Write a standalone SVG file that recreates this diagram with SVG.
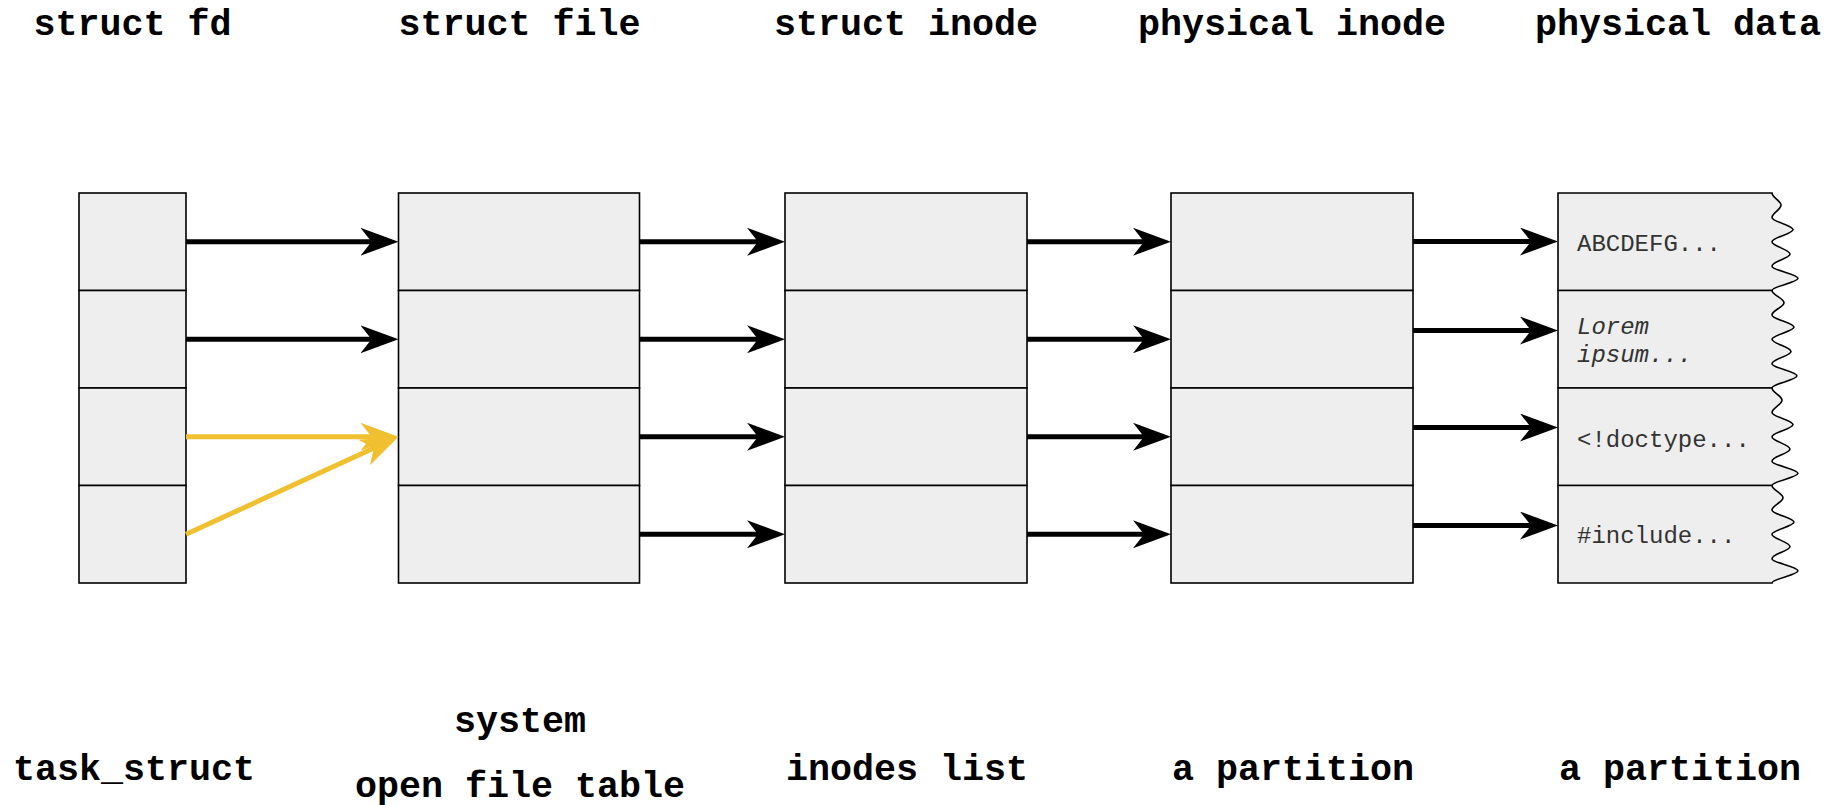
<svg xmlns="http://www.w3.org/2000/svg" width="1840" height="805" viewBox="0 0 1840 805">
<style>
.cell{fill:#eeeeee;stroke:#000;stroke-width:1.6}
.hd{font-family:"Liberation Mono","Courier New",monospace;font-weight:bold;font-size:36.7px;fill:#000;text-anchor:middle}
.dt{font-family:"Liberation Mono","Courier New",monospace;font-size:24px;fill:#333}
.ar{stroke:#000;stroke-width:5;fill:none}
.ay{stroke:#F0C030;stroke-width:5;fill:none}
</style>
<defs>
<marker id="mb" markerUnits="userSpaceOnUse" viewBox="0 0 38 28" refX="11" refY="14" markerWidth="38" markerHeight="28" orient="auto">
<path d="M0,0 L38,14 L0,28 L11,14 Z" fill="#000"/>
</marker>
<marker id="my" markerUnits="userSpaceOnUse" viewBox="0 0 38 28" refX="11" refY="14" markerWidth="38" markerHeight="28" orient="auto">
<path d="M0,0 L38,14 L0,28 L11,14 Z" fill="#F0C030"/>
</marker>
</defs>

<g id="headers">
<text class="hd" x="132.5" y="35">struct fd</text>
<text class="hd" x="519.5" y="35">struct file</text>
<text class="hd" x="906" y="35">struct inode</text>
<text class="hd" x="1292" y="35">physical inode</text>
<text class="hd" x="1678" y="35">physical data</text>
</g>

<g id="footers">
<text class="hd" x="134" y="780">task_struct</text>
<text class="hd" x="520" y="732">system</text>
<text class="hd" x="520" y="797">open file table</text>
<text class="hd" x="907" y="780">inodes list</text>
<text class="hd" x="1293" y="780">a partition</text>
<text class="hd" x="1680" y="780">a partition</text>
</g>

<g id="fd-table">
<rect class="cell" x="79" y="193" width="107" height="97.5"/>
<rect class="cell" x="79" y="290.5" width="107" height="97.5"/>
<rect class="cell" x="79" y="388" width="107" height="97.5"/>
<rect class="cell" x="79" y="485.5" width="107" height="97.5"/>
</g>

<g id="file-table">
<rect class="cell" x="398.5" y="193" width="241" height="97.5"/>
<rect class="cell" x="398.5" y="290.5" width="241" height="97.5"/>
<rect class="cell" x="398.5" y="388" width="241" height="97.5"/>
<rect class="cell" x="398.5" y="485.5" width="241" height="97.5"/>
</g>

<g id="inode-list">
<rect class="cell" x="785" y="193" width="242" height="97.5"/>
<rect class="cell" x="785" y="290.5" width="242" height="97.5"/>
<rect class="cell" x="785" y="388" width="242" height="97.5"/>
<rect class="cell" x="785" y="485.5" width="242" height="97.5"/>
</g>

<g id="physical-inodes">
<rect class="cell" x="1171" y="193" width="242" height="97.5"/>
<rect class="cell" x="1171" y="290.5" width="242" height="97.5"/>
<rect class="cell" x="1171" y="388" width="242" height="97.5"/>
<rect class="cell" x="1171" y="485.5" width="242" height="97.5"/>
</g>

<g id="physical-data">
<path class="cell" d="M1558,193 H1772 c0,4.4 9,7.8 9,12.19 c0,4.4 -9,7.8 -9,12.19 c0,4.4 21,7.8 21,12.19 c0,4.4 -21,7.8 -21,12.19 c0,4.4 18,7.8 18,12.19 c0,4.4 -18,7.8 -18,12.19 c0,4.4 26,7.8 26,12.19 c0,4.4 -26,7.8 -26,12.19 H1558 Z"/>
<path class="cell" d="M1558,290.5 H1772 c0,4.4 12,7.8 12,12.19 c0,4.4 -12,7.8 -12,12.19 c0,4.4 22,7.8 22,12.19 c0,4.4 -22,7.8 -22,12.19 c0,4.4 19,7.8 19,12.19 c0,4.4 -19,7.8 -19,12.19 c0,4.4 25,7.8 25,12.19 c0,4.4 -25,7.8 -25,12.19 H1558 Z"/>
<path class="cell" d="M1558,388 H1772 c0,4.4 10,7.8 10,12.19 c0,4.4 -10,7.8 -10,12.19 c0,4.4 21,7.8 21,12.19 c0,4.4 -21,7.8 -21,12.19 c0,4.4 18,7.8 18,12.19 c0,4.4 -18,7.8 -18,12.19 c0,4.4 26,7.8 26,12.19 c0,4.4 -26,7.8 -26,12.19 H1558 Z"/>
<path class="cell" d="M1558,485.5 H1772 c0,4.4 11,7.8 11,12.19 c0,4.4 -11,7.8 -11,12.19 c0,4.4 22,7.8 22,12.19 c0,4.4 -22,7.8 -22,12.19 c0,4.4 18,7.8 18,12.19 c0,4.4 -18,7.8 -18,12.19 c0,4.4 26,7.8 26,12.19 c0,4.4 -26,7.8 -26,12.19 H1558 Z"/>
<text class="dt" x="1577" y="251">ABCDEFG...</text>
<text class="dt" x="1577" y="334" font-style="italic">Lorem</text>
<text class="dt" x="1577" y="362" font-style="italic">ipsum...</text>
<text class="dt" x="1577" y="447">&lt;!doctype...</text>
<text class="dt" x="1577" y="543">#include...</text>
</g>

<g id="connectors">
<line class="ar" x1="186" y1="241.75" x2="371.5" y2="241.75" marker-end="url(#mb)"/>
<line class="ar" x1="186" y1="339.25" x2="371.5" y2="339.25" marker-end="url(#mb)"/>
<line class="ay" x1="186" y1="436.75" x2="371.5" y2="436.75" marker-end="url(#my)"/>
<line class="ay" x1="186" y1="534.25" x2="374" y2="448" marker-end="url(#my)"/>

<line class="ar" x1="639.5" y1="241.75" x2="758" y2="241.75" marker-end="url(#mb)"/>
<line class="ar" x1="639.5" y1="339.25" x2="758" y2="339.25" marker-end="url(#mb)"/>
<line class="ar" x1="639.5" y1="436.75" x2="758" y2="436.75" marker-end="url(#mb)"/>
<line class="ar" x1="639.5" y1="534.25" x2="758" y2="534.25" marker-end="url(#mb)"/>

<line class="ar" x1="1027" y1="241.75" x2="1144" y2="241.75" marker-end="url(#mb)"/>
<line class="ar" x1="1027" y1="339.25" x2="1144" y2="339.25" marker-end="url(#mb)"/>
<line class="ar" x1="1027" y1="436.75" x2="1144" y2="436.75" marker-end="url(#mb)"/>
<line class="ar" x1="1027" y1="534.25" x2="1144" y2="534.25" marker-end="url(#mb)"/>

<line class="ar" x1="1413" y1="241.5" x2="1531" y2="241.5" marker-end="url(#mb)"/>
<line class="ar" x1="1413" y1="330.5" x2="1531" y2="330.5" marker-end="url(#mb)"/>
<line class="ar" x1="1413" y1="427.5" x2="1531" y2="427.5" marker-end="url(#mb)"/>
<line class="ar" x1="1413" y1="525.5" x2="1531" y2="525.5" marker-end="url(#mb)"/>
</g>
</svg>
